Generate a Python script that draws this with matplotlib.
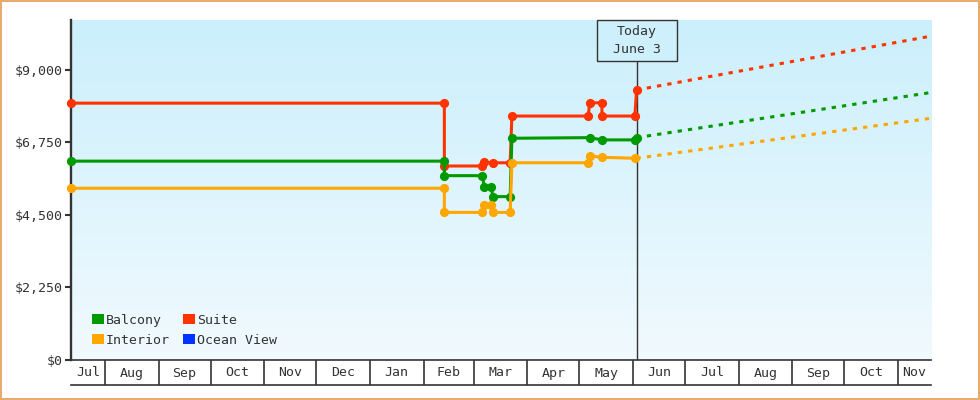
import matplotlib
matplotlib.use("Agg")
import matplotlib.pyplot as plt
from matplotlib.patches import Patch, Rectangle
import matplotlib.dates as mdates
import numpy as np
import pandas as pd

plt.rcParams['font.family'] = ['DejaVu Sans Mono', 'DejaVu Sans']

# time range of the chart
start = pd.Timestamp("2023-07-12 10:00")
end = pd.Timestamp("2024-11-20")
today = pd.Timestamp("2024-06-03")

# price history
suite_dates = ["2023-07-12T10:00", "2024-02-13", "2024-02-13", "2024-03-06", "2024-03-07",
               "2024-03-12", "2024-03-22", "2024-03-23", "2024-05-06", "2024-05-07",
               "2024-05-14", "2024-05-14", "2024-06-02", "2024-06-03"]
suite_prices = [7970, 7970, 6020, 6020, 6130, 6120, 6120, 7570, 7570, 7980,
                7980, 7570, 7570, 8380]

balcony_dates = ["2023-07-12T10:00", "2024-02-13", "2024-02-13", "2024-03-06", "2024-03-07",
                 "2024-03-11", "2024-03-12", "2024-03-22", "2024-03-23", "2024-05-07",
                 "2024-05-14", "2024-06-02", "2024-06-03"]
balcony_prices = [6170, 6170, 5720, 5720, 5380, 5380, 5070, 5070, 6880, 6900,
                  6830, 6830, 6900]

interior_dates = ["2023-07-12T10:00", "2024-02-13", "2024-02-13", "2024-03-06", "2024-03-07",
                  "2024-03-11", "2024-03-12", "2024-03-22", "2024-03-23", "2024-05-06",
                  "2024-05-07", "2024-05-14", "2024-06-02"]
interior_prices = [5330, 5330, 4580, 4580, 4810, 4810, 4580, 4580, 6120, 6120,
                   6330, 6290, 6260]

# projected prices from today to the end of the range
proj_dates = ["2024-06-03", "2024-11-20"]
suite_proj = [8380, 10050]
balcony_proj = [6900, 8300]
interior_proj = [6260, 7500]

yticks = [0, 2250, 4500, 6750, 9000]
legend_labels = ["Balcony", "Interior", "Suite", "Ocean View"]
colors = {"Balcony": "#009a00", "Interior": "#ffa600", "Suite": "#ff3300", "Ocean View": "#0033ff"}

dark = "#333333"

fig = plt.figure(figsize=(9.8, 4), dpi=100)
ax = fig.add_axes([71 / 980, 40 / 400, 860 / 980, 340 / 400])
bax = fig.add_axes([71 / 980, 15 / 400, 860 / 980, 25 / 400])

# gradient background
grad = np.linspace(0, 1, 256).reshape(-1, 1)
top = np.array([203, 239, 252]) / 255
bot = np.array([241, 250, 254]) / 255
img = top[None, None, :] * (1 - grad[:, :, None]) + bot[None, None, :] * grad[:, :, None]
ax.imshow(img, extent=[0, 1, 0, 1], transform=ax.transAxes, aspect='auto', zorder=0)

series = [("Suite", suite_dates, suite_prices, suite_proj),
          ("Balcony", balcony_dates, balcony_prices, balcony_proj),
          ("Interior", interior_dates, interior_prices, interior_proj)]
for name, d, p, pr in series:
    c = colors[name]
    ax.plot(pd.to_datetime(d, format='ISO8601'), p, color=c, lw=2.2, marker='o', ms=5.6,
            zorder=3, clip_on=False)
    ax.plot(pd.to_datetime(proj_dates), pr, color=c, lw=2.2, dashes=(1.4, 2.0), zorder=3)

ax.set_xlim(start, end)
ax.set_ylim(0, 10550)
ax.set_xticks([])
ax.set_yticks(yticks)
ax.set_yticklabels([f"${v:,}" for v in yticks])
ax.tick_params(axis='y', length=4, width=1.5, color=dark, pad=2, labelsize=9.5, labelcolor=dark)
for s in ['top', 'right']:
    ax.spines[s].set_visible(False)
ax.spines['left'].set_color(dark)
ax.spines['left'].set_linewidth(1.7)
ax.spines['bottom'].set_color(dark)
ax.spines['bottom'].set_linewidth(1.2)

# today marker
tx = (mdates.date2num(today) - mdates.date2num(start)) / (mdates.date2num(end) - mdates.date2num(start))
bw, bh = 80 / 860, 41 / 340
ax.plot([today, today], [0, 10550 * (1 - bh)], color=dark, lw=1, zorder=2)
ax.add_patch(Rectangle((tx - bw / 2, 1 - bh), bw, bh, transform=ax.transAxes,
                       facecolor="#cdf0fc", edgecolor=dark, lw=1, zorder=4, clip_on=False))
ax.text(tx, 1 - bh / 2, "Today\nJune 3", transform=ax.transAxes, ha='center', va='center',
        ma='center', fontsize=9.5, color=dark, linespacing=1.45, zorder=5)

# legend
handles = [Patch(facecolor=colors[n], edgecolor='none', label=n) for n in legend_labels]
ax.legend(handles=handles, ncol=2, loc='lower left', bbox_to_anchor=(0.011, 0.004),
          frameon=False, fontsize=9.5, handlelength=0.85, handleheight=0.85,
          handletextpad=0.2, columnspacing=1.0, labelspacing=0.55, labelcolor=dark)

# month band below the plot
bax.set_xlim(start, end)
bax.set_ylim(0, 1)
bax.set_xticks([])
bax.set_yticks([])
bax.patch.set_visible(False)
for s in ['top', 'left', 'right']:
    bax.spines[s].set_visible(False)
bax.spines['bottom'].set_color(dark)
bax.spines['bottom'].set_linewidth(1.2)
months = pd.date_range(start.normalize().replace(day=1), end, freq='MS')
for i, m in enumerate(months):
    m_end = months[i + 1] if i + 1 < len(months) else end
    a, b = max(m, start), min(m_end, end)
    if m > start:
        bax.plot([m, m], [0, 1], color=dark, lw=1.2)
    mid = a + (b - a) / 2
    bax.text(mid, 0.48, m.strftime('%b'), ha='center', va='center', fontsize=9.5, color=dark)

fig.patches.append(Rectangle((0.0008, 0.002), 0.9984, 0.996, transform=fig.transFigure,
                             fill=False, edgecolor="#e8aa6c", lw=1.4))

fig.savefig("out.png", dpi=100, facecolor='white')
